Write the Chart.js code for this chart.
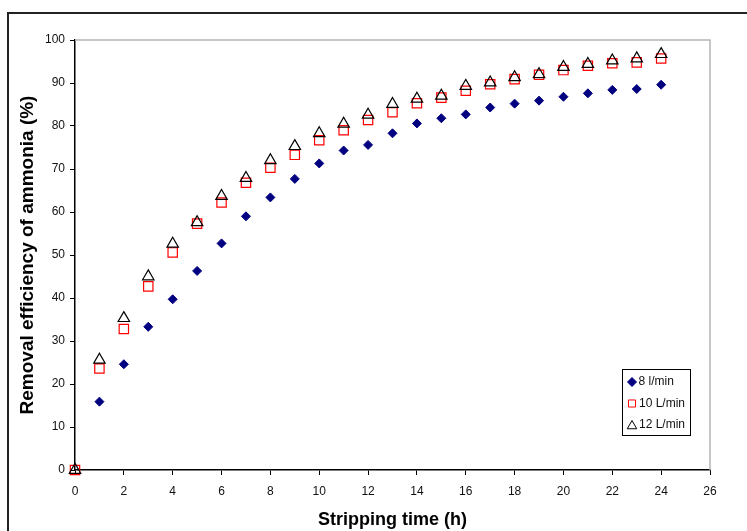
<!DOCTYPE html>
<html>
<head>
<meta charset="utf-8">
<script src="https://cdn.jsdelivr.net/npm/chart.js@4"></script>
<style>
    html, body { margin: 0; padding: 0; background: #fff; overflow: hidden; }
    #wrap { position: relative; width: 747px; height: 531px; }
    #frame { position: absolute; left: 7px; top: 12px; width: 760px; height: 540px;
             border-top: 2px solid #222; border-left: 2px solid #222; box-sizing: border-box; }
    canvas { position: absolute; left: 0; top: 0; }
</style>
</head>
<body>
<div id="wrap">
    <div id="frame"></div>
    <canvas id="chart" width="747" height="531"></canvas>
</div>
<script>
    // ===== Data =====
    const hours = [0, 1, 2, 3, 4, 5, 6, 7, 8, 9, 10, 11, 12, 13, 14, 15, 16, 17, 18, 19, 20, 21, 22, 23, 24];
    // no diamond is visible at t = 0 in the figure
    const flow8 = [null, 15.9, 24.6, 33.3, 39.7, 46.3, 52.7, 59.0, 63.4, 67.7, 71.3, 74.3, 75.6, 78.3, 80.6, 81.8, 82.7, 84.3, 85.2, 85.9, 86.8, 87.6, 88.4, 88.6, 89.6];
    const flow10 = [0, 23.6, 32.8, 42.7, 50.6, 57.3, 62.2, 66.8, 70.3, 73.3, 76.7, 79.0, 81.4, 83.2, 85.3, 86.6, 88.2, 89.7, 90.9, 91.9, 93.0, 94.0, 94.6, 94.8, 95.7];
    const flow12 = [0, 25.6, 35.3, 45.0, 52.6, 57.6, 63.7, 67.9, 72.0, 75.3, 78.3, 80.5, 82.6, 85.1, 86.3, 87.0, 89.3, 90.1, 91.3, 92.0, 93.7, 94.4, 95.2, 95.7, 96.7];
    const seriesLabels = ['8 l/min', '10 L/min', '12 L/min'];
    const xTicks = { min: 0, max: 26, step: 2 };
    const yTicks = { min: 0, max: 100, step: 10 };

    const FONT = '"Liberation Sans", Arial, sans-serif';
    const pts = (arr) => hours.map((h, i) => ({ x: h, y: arr[i] })).filter(p => p.y !== null);

    // plot frame: grey top/right edges like the Excel plot area
    const plotFrame = {
        id: 'plotFrame',
        beforeDatasetsDraw(chart) {
            const { ctx, chartArea: a } = chart;
            ctx.save();
            ctx.strokeStyle = '#b4b4b4';
            ctx.lineWidth = 1.5;
            ctx.beginPath();
            ctx.moveTo(a.left, a.top);
            ctx.lineTo(a.right, a.top);
            ctx.lineTo(a.right, a.bottom);
            ctx.stroke();
            ctx.restore();
        }
    };

    // boxed legend inside the plot, lower right
    const boxLegend = {
        id: 'boxLegend',
        afterDraw(chart) {
            const { ctx, chartArea: a } = chart;
            const w = 68, h = 66;
            const x0 = a.right - 20 - w, y0 = a.bottom - 35 - h;
            ctx.save();
            ctx.fillStyle = '#fff';
            ctx.fillRect(x0, y0, w, h);
            ctx.strokeStyle = '#000';
            ctx.lineWidth = 1;
            ctx.strokeRect(x0 + 0.5, y0 + 0.5, w, h);
            ctx.font = '12px ' + FONT;
            ctx.textBaseline = 'middle';
            const rows = [13, 34.5, 56];
            const mk = [
                { pointStyle: 'rectRot', radius: 4.5, borderWidth: 1, rotation: 0 },
                { pointStyle: 'rect', radius: 5, borderWidth: 1, rotation: 0 },
                { pointStyle: 'triangle', radius: 5.5, borderWidth: 1, rotation: 0 }
            ];
            chart.data.datasets.forEach((ds, i) => {
                const cy = y0 + rows[i];
                ctx.fillStyle = ds.pointBackgroundColor;
                ctx.strokeStyle = ds.pointBorderColor;
                ctx.lineWidth = 1;
                Chart.helpers.drawPoint(ctx, mk[i], x0 + 10, cy + (i === 2 ? 1 : 0));
                ctx.fillStyle = '#111';
                ctx.fillText(ds.label, x0 + (i === 0 ? 16.5 : 17), cy);
            });
            ctx.restore();
        }
    };

    const axisStyle = {
        grid: { drawOnChartArea: false, color: '#000', tickLength: 5, tickWidth: 1 },
        border: { color: '#000', width: 1.5 }
    };

    new Chart(document.getElementById('chart'), {
        type: 'scatter',
        data: {
            datasets: [
                { label: seriesLabels[0], data: pts(flow8), order: 2, clip: false,
                  pointStyle: 'rectRot', pointRadius: 4.5, pointBorderWidth: 1,
                  pointBackgroundColor: '#000080', pointBorderColor: '#000080' },
                { label: seriesLabels[1], data: pts(flow10), order: 1, clip: false,
                  pointStyle: 'rect', pointRadius: 6.6, pointBorderWidth: 1.2,
                  pointBackgroundColor: 'rgba(0,0,0,0)', pointBorderColor: '#ff0000' },
                { label: seriesLabels[2], data: pts(flow12), order: 0, clip: false,
                  pointStyle: 'triangle', pointRadius: 6.6, pointBorderWidth: 1.2,
                  pointBackgroundColor: 'rgba(0,0,0,0)', pointBorderColor: '#000' }
            ]
        },
        options: {
            responsive: false,
            animation: false,
            devicePixelRatio: 1,
            layout: { padding: { left: 12, top: 40, right: 37, bottom: 0 } },
            plugins: { legend: { display: false }, tooltip: { enabled: false } },
            scales: {
                x: {
                    ...axisStyle,
                    type: 'linear',
                    min: xTicks.min, max: xTicks.max,
                    ticks: { stepSize: xTicks.step, padding: 9, color: '#111', font: { family: FONT, size: 12 } },
                    title: { display: true, text: 'Stripping time (h)', color: '#000', padding: { top: 4, bottom: 0 },
                             font: { family: FONT, size: 18, weight: 'bold' } },
                    afterFit(s) { s.height = 61; }
                },
                y: {
                    ...axisStyle,
                    min: yTicks.min, max: yTicks.max,
                    ticks: { stepSize: yTicks.step, padding: 5, color: '#111', font: { family: FONT, size: 12 } },
                    title: { display: true, text: 'Removal efficiency of ammonia (%)', color: '#000', padding: { top: 4, bottom: 4 },
                             font: { family: FONT, size: 19, weight: 'bold' } },
                    afterFit(s) { s.width = 63; }
                }
            }
        },
        plugins: [plotFrame, boxLegend]
    });
</script>
</body>
</html>
